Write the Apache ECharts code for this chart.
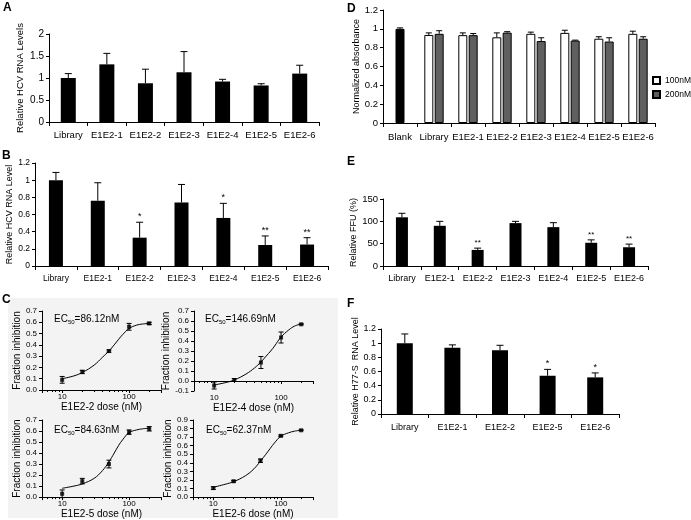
<!DOCTYPE html>
<html><head><meta charset="utf-8">
<script src="https://cdn.jsdelivr.net/npm/echarts@6/dist/echarts.min.js"></script>
<style>html,body{margin:0;padding:0;background:#fff}#c{width:691px;height:520px}</style>
</head><body><div id="c"></div>
<script>
// ---------- data ----------
const catsA = ['Library','E1E2-1','E1E2-2','E1E2-3','E1E2-4','E1E2-5','E1E2-6'];
const valsA = [1.0, 1.31, 0.88, 1.13, 0.92, 0.83, 1.1];
const sdA   = [0.1, 0.25, 0.32, 0.47, 0.05, 0.04, 0.19];

const catsB = ['Library','E1E2-1','E1E2-2','E1E2-3','E1E2-4','E1E2-5','E1E2-6'];
const valsB = [1.0, 0.76, 0.33, 0.74, 0.56, 0.245, 0.25];
const sdB   = [0.09, 0.21, 0.18, 0.21, 0.17, 0.105, 0.08];
const starsB = ['', '', '*', '', '*', '**', '**'];

const doses = [10, 20, 50, 100, 200];
const fitDoses = [10, 15, 20, 30, 40, 50, 60, 70, 80, 100, 130, 160, 200];
const c2Mean = [0.09, 0.16, 0.345, 0.56, 0.59];
const c2Sd   = [0.03, 0.015, 0.01, 0.03, 0.01];
const c2Fit  = [0.10, 0.125, 0.155, 0.22, 0.29, 0.345, 0.40, 0.45, 0.49, 0.545, 0.575, 0.585, 0.59];
const c4Mean = [-0.045, 0.01, 0.185, 0.435, 0.567];
const c4Sd   = [0.035, 0.015, 0.06, 0.055, 0.005];
const c4Fit  = [-0.04, -0.015, 0.01, 0.07, 0.13, 0.19, 0.25, 0.30, 0.35, 0.44, 0.51, 0.55, 0.57];
const c5Mean = [0.03, 0.145, 0.3, 0.59, 0.62];
const c5Sd   = [0.035, 0.025, 0.035, 0.02, 0.02];
const c5Fit  = [0.08, 0.10, 0.12, 0.17, 0.24, 0.32, 0.40, 0.47, 0.52, 0.585, 0.61, 0.62, 0.625];
const c6Mean = [0.105, 0.185, 0.425, 0.715, 0.78];
const c6Sd   = [0.015, 0.01, 0.02, 0.01, 0.005];
const c6Fit  = [0.115, 0.15, 0.18, 0.25, 0.33, 0.42, 0.50, 0.57, 0.63, 0.71, 0.75, 0.77, 0.78];
const ec50 = ['86.12', '146.69', '84.63', '62.37'];

const catsD = ['Blank','Library','E1E2-1','E1E2-2','E1E2-3','E1E2-4','E1E2-5','E1E2-6'];
const blankVal = 1.0, blankSd = 0.01;
const d100 = ['-', 0.935, 0.933, 0.91, 0.947, 0.957, 0.895, 0.947];
const d100Sd = [0, 0.022, 0.024, 0.047, 0.018, 0.028, 0.021, 0.028];
const d200 = ['-', 0.947, 0.933, 0.96, 0.87, 0.875, 0.865, 0.895];
const d200Sd = [0, 0.033, 0.017, 0.01, 0.035, 0.005, 0.04, 0.021];

const catsE = ['Library','E1E2-1','E1E2-2','E1E2-3','E1E2-4','E1E2-5','E1E2-6'];
const valsE = [109, 90, 36, 96, 87, 52, 42];
const sdE   = [9, 10, 4, 4, 10, 6.5, 7];
const starsE = ['', '', '**', '', '', '**', '**'];

const catsF = ['Library','E1E2-1','E1E2-2','E1E2-5','E1E2-6'];
const valsF = [1.0, 0.936, 0.9, 0.54, 0.517];
const sdF   = [0.13, 0.04, 0.07, 0.09, 0.063];
const starsF = ['', '', '', '*', '*'];

// ---------- helpers ----------
const FONT = 'Liberation Sans';
const BLK = '#000';

function catX(gi, cats, fs, margin, extra) {
  return Object.assign({
    type: 'category', gridIndex: gi, data: cats,
    axisLine: { lineStyle: { color: BLK, width: 1 } },
    axisTick: { show: true, length: 4, lineStyle: { color: BLK } },
    axisLabel: { color: BLK, fontSize: fs, fontFamily: FONT, margin: margin, interval: 0 },
    splitLine: { show: false }
  }, extra || {});
}
function valY(gi, min, max, interval, name, nameGap, fs, nfs, fmt) {
  return {
    type: 'value', gridIndex: gi, min, max, interval,
    name, nameLocation: 'middle', nameRotate: 90, nameGap,
    nameTextStyle: { color: BLK, fontSize: nfs, fontFamily: FONT },
    axisLine: { show: true, lineStyle: { color: BLK, width: 1 } },
    axisTick: { show: true, length: 3, lineStyle: { color: BLK } },
    axisLabel: { color: BLK, fontSize: fs, fontFamily: FONT, margin: 5, formatter: fmt },
    splitLine: { show: false }
  };
}
function errRender(offset, cap, stars, starFs) {
  return function (params, api) {
    const c = api.value(0), v = api.value(1), t = api.value(2);
    const p0 = api.coord([c, v]); const p1 = api.coord([c, t]);
    const x = p0[0] + offset;
    const ch = [
      { type: 'line', shape: { x1: x, y1: p0[1], x2: x, y2: p1[1] }, style: { stroke: BLK, lineWidth: 1 } },
      { type: 'line', shape: { x1: x - cap, y1: p1[1], x2: x + cap, y2: p1[1] }, style: { stroke: BLK, lineWidth: 1 } }
    ];
    const s = stars ? stars[params.dataIndex] : '';
    if (s) ch.push({ type: 'text', x: x, y: p1[1] - 1, style: { text: s, fill: BLK, font: starFs + 'px ' + FONT, align: 'center', verticalAlign: 'bottom' } });
    return { type: 'group', children: ch };
  };
}
function symErrRender(cap) {
  return function (params, api) {
    const d = api.value(0), m = api.value(1), s = api.value(2);
    const pl = api.coord([d, m - s]); const ph = api.coord([d, m + s]);
    const x = pl[0];
    return { type: 'group', children: [
      { type: 'line', shape: { x1: x, y1: pl[1], x2: x, y2: ph[1] }, style: { stroke: BLK, lineWidth: 1 } },
      { type: 'line', shape: { x1: x - cap, y1: pl[1], x2: x + cap, y2: pl[1] }, style: { stroke: BLK, lineWidth: 1 } },
      { type: 'line', shape: { x1: x - cap, y1: ph[1], x2: x + cap, y2: ph[1] }, style: { stroke: BLK, lineWidth: 1 } }
    ] };
  };
}
function errData(vals, sds) {
  return vals.map((v, i) => v === '-' ? [i, 0, 0] : [i, v, v + sds[i]]);
}

// ---------- grids ----------
const grids = [
  { left: 49, top: 34, width: 270, height: 88 },     // 0 A
  { left: 35, top: 163, width: 293, height: 103 },   // 1 B
  { left: 42, top: 311, width: 119, height: 79 },    // 2 C TL
  { left: 194, top: 311, width: 119, height: 80 },   // 3 C TR
  { left: 42, top: 420, width: 119, height: 80 },    // 4 C BL
  { left: 193, top: 420, width: 120, height: 80 },   // 5 C BR
  { left: 383, top: 10, width: 272, height: 113 },   // 6 D
  { left: 383, top: 199, width: 265, height: 67 },   // 7 E
  { left: 381, top: 329, width: 238, height: 85 }    // 8 F
];

function logX(gi, name) {
  return {
    type: 'log', logBase: 10, gridIndex: gi, min: 5, max: 300,
    name, nameLocation: 'middle', nameGap: 11,
    nameTextStyle: { color: BLK, fontSize: 10, fontFamily: FONT },
    axisLine: { lineStyle: { color: BLK, width: 1 } },
    axisTick: { show: true, length: 3, lineStyle: { color: BLK } },
    minorTick: { show: true, splitNumber: 9, length: 2, lineStyle: { color: BLK } },
    axisLabel: { color: BLK, fontSize: 8, fontFamily: FONT, margin: 3, showMinLabel: false, showMaxLabel: false },
    splitLine: { show: false }, minorSplitLine: { show: false }
  };
}
const f1 = v => v.toFixed(1);

const xAxes = [
  catX(0, catsA, 9.5, 8),
  catX(1, catsB, 8.5, 8),
  logX(2, 'E1E2-2 dose (nM)'),
  logX(3, 'E1E2-4 dose (nM)'),
  logX(4, 'E1E2-5 dose (nM)'),
  logX(5, 'E1E2-6 dose (nM)'),
  catX(6, catsD, 9.5, 9),
  catX(6, catsD, 9.5, 9, { show: false }),
  catX(7, catsE, 9, 8),
  catX(8, catsF, 9, 9)
];
const yAxes = [
  valY(0, 0, 2, 0.5, 'Relative HCV RNA Levels', 24, 10, 9.5),
  valY(1, 0, 1.2, 0.2, 'Relative HCV RNA Level', 13, 8.5, 9),
  valY(2, 0, 0.7, 0.1, 'Fraction inhibition', 16, 8, 10, f1),
  valY(3, -0.1, 0.7, 0.1, 'Fraction inhibition', 16, 8, 10, f1),
  valY(4, 0, 0.7, 0.1, 'Fraction inhibition', 16, 8, 10, f1),
  valY(5, 0, 0.9, 0.1, 'Fraction inhibition', 16, 8, 10, f1),
  valY(6, 0, 1.2, 0.2, 'Normalized absorbance', 20, 9.5, 9),
  valY(7, 0, 150, 50, 'Relative FFU (%)', 21, 9.5, 9),
  valY(8, 0, 1.2, 0.2, 'Relative H77-S  RNA Level', 21, 9, 9)
];

const series = [];
function barPanel(xi, yi, cats, vals, sds, stars, bw, starFs) {
  series.push({ type: 'bar', xAxisIndex: xi, yAxisIndex: yi, data: vals, barWidth: bw, itemStyle: { color: BLK }, silent: true, z: 2 });
  series.push({ type: 'custom', xAxisIndex: xi, yAxisIndex: yi, data: errData(vals, sds), renderItem: errRender(0, 3.5, stars, starFs), silent: true, z: 3 });
}
barPanel(0, 0, catsA, valsA, sdA, null, 15, 9);
barPanel(1, 1, catsB, valsB, sdB, starsB, 14, 9);
barPanel(8, 7, catsE, valsE, sdE, starsE, 12, 8);
barPanel(9, 8, catsF, valsF, sdF, starsF, 16, 9);

// D panel
series.push({ type: 'bar', name: 'Blank', xAxisIndex: 7, yAxisIndex: 6, data: [blankVal, '-', '-', '-', '-', '-', '-', '-'], barWidth: 9,
  itemStyle: { color: BLK, borderColor: BLK, borderWidth: 1 }, silent: true, z: 2 });
series.push({ type: 'custom', xAxisIndex: 7, yAxisIndex: 6, data: [[0, blankVal, blankVal + blankSd]], renderItem: errRender(0, 3, null, 8), silent: true, z: 3 });
series.push({ type: 'bar', name: '100nM', xAxisIndex: 6, yAxisIndex: 6, data: d100, barWidth: 9, barGap: '15%',
  itemStyle: { color: '#fff', borderColor: BLK, borderWidth: 1 }, silent: true, z: 2 });
series.push({ type: 'bar', name: '200nM', xAxisIndex: 6, yAxisIndex: 6, data: d200, barWidth: 9, barGap: '15%',
  itemStyle: { color: '#5f5f5f', borderColor: BLK, borderWidth: 1 }, silent: true, z: 2 });
series.push({ type: 'custom', xAxisIndex: 6, yAxisIndex: 6, data: errData(d100, d100Sd).slice(1), renderItem: errRender(-5.2, 3, null, 8), silent: true, z: 3 });
series.push({ type: 'custom', xAxisIndex: 6, yAxisIndex: 6, data: errData(d200, d200Sd).slice(1), renderItem: errRender(5.2, 3, null, 8), silent: true, z: 3 });

// C panels
const cSets = [[c2Mean, c2Sd, c2Fit], [c4Mean, c4Sd, c4Fit], [c5Mean, c5Sd, c5Fit], [c6Mean, c6Sd, c6Fit]];
cSets.forEach((s, k) => {
  const xi = 2 + k, yi = 2 + k;
  series.push({ type: 'line', xAxisIndex: xi, yAxisIndex: yi, data: fitDoses.map((d, i) => [d, s[2][i]]), smooth: 0.4,
    showSymbol: false, lineStyle: { color: BLK, width: 1 }, silent: true, z: 2 });
  series.push({ type: 'scatter', xAxisIndex: xi, yAxisIndex: yi, data: doses.map((d, i) => [d, s[0][i]]), symbol: 'rect', symbolSize: 4,
    itemStyle: { color: BLK }, silent: true, z: 4 });
  series.push({ type: 'custom', xAxisIndex: xi, yAxisIndex: yi, data: doses.map((d, i) => [d, s[0][i], s[1][i]]), renderItem: symErrRender(2.5), silent: true, z: 3 });
});

const ecPos = [[54, 313], [205, 313], [54, 424], [206, 424]];
const graphics = [
  { type: 'rect', shape: { x: 8, y: 298, width: 330, height: 220 }, style: { fill: '#f3f3f3' }, z: -10 },
  { type: 'text', x: 3, y: 2, style: { text: 'A', font: 'bold 12px ' + FONT, fill: BLK } },
  { type: 'text', x: 2, y: 150, style: { text: 'B', font: 'bold 12px ' + FONT, fill: BLK } },
  { type: 'text', x: 2, y: 294, style: { text: 'C', font: 'bold 12px ' + FONT, fill: BLK } },
  { type: 'text', x: 347, y: 3, style: { text: 'D', font: 'bold 12px ' + FONT, fill: BLK } },
  { type: 'text', x: 347, y: 156, style: { text: 'E', font: 'bold 12px ' + FONT, fill: BLK } },
  { type: 'text', x: 347, y: 298, style: { text: 'F', font: 'bold 12px ' + FONT, fill: BLK } }
];
ec50.forEach((v, k) => {
  graphics.push({ type: 'text', x: ecPos[k][0], y: ecPos[k][1], z: 10, style: {
    text: 'EC{s|50}=' + v + 'nM', font: '10px ' + FONT, fill: BLK,
    rich: { s: { fontSize: 6, fontFamily: FONT, verticalAlign: 'bottom', padding: [6, 0, 0, 0] } } } });
});

const chart = echarts.init(document.getElementById('c'), null, { renderer: 'canvas' });
chart.setOption({
  animation: false,
  backgroundColor: '#fff',
  textStyle: { fontFamily: FONT },
  grid: grids,
  xAxis: xAxes,
  yAxis: yAxes,
  legend: {
    data: ['100nM', '200nM'], orient: 'vertical', left: 652, top: 76, padding: 0, itemWidth: 7, itemHeight: 7, itemGap: 5,
    icon: 'rect', textStyle: { fontSize: 8.5, fontFamily: FONT, color: BLK, overflow: 'none' }, selectedMode: false
  },
  series: series,
  graphic: graphics
});
</script></body></html>
